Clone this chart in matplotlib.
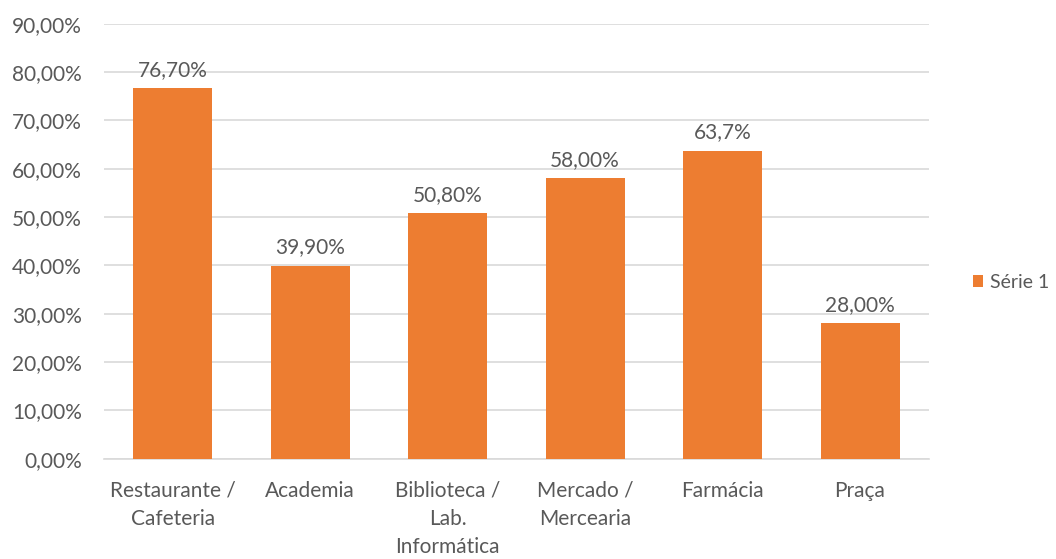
import matplotlib.pyplot as plt
from matplotlib.ticker import FuncFormatter

categorias = ["Restaurante /\nCafeteria", "Academia", "Biblioteca /\nLab.\nInformática",
              "Mercado /\nMercearia", "Farmácia", "Praça"]
valores = [76.70, 39.90, 50.80, 58.00, 63.7, 28.00]
rotulos = ["76,70%", "39,90%", "50,80%", "58,00%", "63,7%", "28,00%"]

laranja = "#ED7D31"
cinza_texto = "#595959"
tam = 15

plt.rcParams["font.family"] = ["Lato", "DejaVu Sans"]

fig = plt.figure(figsize=(10.56, 5.59), dpi=100)
ax = fig.add_axes([0.0985, 0.1794, 0.781, 0.778])

x = range(len(categorias))
barras = ax.bar(x, valores, width=0.575, color=laranja, zorder=3, label="Série 1")

for b, txt in zip(barras, rotulos):
    ax.annotate(txt, (b.get_x() + b.get_width() / 2, b.get_height()),
                xytext=(0, 6), textcoords="offset points",
                ha="center", va="bottom", fontsize=tam, color=cinza_texto)

ax.set_ylim(0, 90)
ax.set_yticks(range(0, 91, 10))
ax.yaxis.set_major_formatter(FuncFormatter(lambda v, p: f"{v:.2f}%".replace(".", ",")))
ax.set_xlim(-0.5, len(categorias) - 0.5)
ax.set_xticks(list(x))
ax.set_xticklabels(categorias, linespacing=1.5)

ax.grid(axis="y", color="#D9D9D9", linewidth=1.2, zorder=0)
ax.tick_params(axis="both", length=0, labelsize=tam, colors=cinza_texto)
ax.tick_params(axis="y", pad=16)
ax.tick_params(axis="x", pad=16)
for lado in ["top", "right", "left"]:
    ax.spines[lado].set_visible(False)
ax.spines["bottom"].set_color("#D9D9D9")
ax.spines["bottom"].set_linewidth(1.2)

fig.legend(loc="center left", bbox_to_anchor=(0.921, 0.495), frameon=False,
           fontsize=14, borderpad=0, borderaxespad=0,
           handlelength=0.55, handleheight=0.55, handletextpad=0.35,
           labelcolor=cinza_texto)

fig.savefig("out.png", dpi=100)
